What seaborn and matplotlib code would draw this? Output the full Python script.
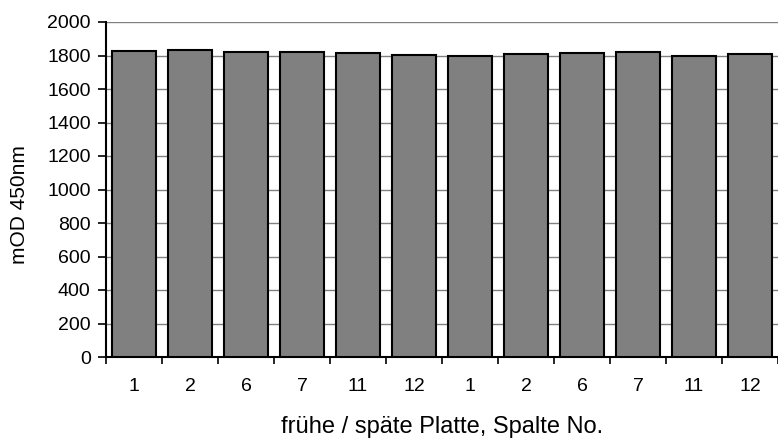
import matplotlib
matplotlib.use("Agg")
import matplotlib.pyplot as plt
import seaborn as sns
import numpy as np
import pandas as pd
from matplotlib.ticker import FixedLocator, MultipleLocator

categories = ["1", "2", "6", "7", "11", "12", "1", "2", "6", "7", "11", "12"]
values = [1825, 1830, 1822, 1822, 1812, 1803, 1800, 1810, 1812, 1818, 1797, 1810]

sns.set_theme(style="white")
plt.rcParams['font.family'] = ['Liberation Sans', 'DejaVu Sans']

df = pd.DataFrame({"pos": list(range(len(values))), "value": values})

fig = plt.figure(figsize=(7.78, 4.41), dpi=100)
ax = fig.add_axes([106/778, 1 - 357/441, 1 - 106/778, (357 - 22)/441])

sns.barplot(data=df, x="pos", y="value", color="#808080", saturation=1,
            edgecolor="black", linewidth=1.5, width=0.8, ax=ax, zorder=3)

ax.set_xlim(-0.5, len(values) - 0.5)
ax.set_ylim(0, 2000)
ax.yaxis.set_major_locator(MultipleLocator(200))
ax.grid(axis="y", color="#808080", linewidth=1, zorder=0)
ax.set_axisbelow(True)

ax.set_xticks(range(len(values)))
ax.set_xticklabels(categories)
ax.xaxis.set_minor_locator(FixedLocator(np.arange(-0.5, len(values), 1.0)))
ax.tick_params(axis="x", which="major", length=0, pad=15, labelsize=14, colors="black")
ax.tick_params(axis="x", which="minor", length=5, width=1.2, direction="out", color="black", bottom=True)
ax.tick_params(axis="y", which="major", length=6, width=1.2, direction="out", color="black",
               left=True, pad=5, labelsize=14, labelcolor="black")

for s in ["top", "right"]:
    ax.spines[s].set_visible(False)
for s in ["left", "bottom"]:
    ax.spines[s].set_visible(True)
    ax.spines[s].set_color("black")
    ax.spines[s].set_linewidth(1.5)

ax.set_xlabel("frühe / späte Platte, Spalte No.", fontsize=17, labelpad=15, color="black")
ax.set_ylabel("mOD 450nm", fontsize=15, labelpad=11, color="black")
ax.yaxis.set_label_coords(-77/672, 0.455)

fig.savefig("out.png", dpi=100)
